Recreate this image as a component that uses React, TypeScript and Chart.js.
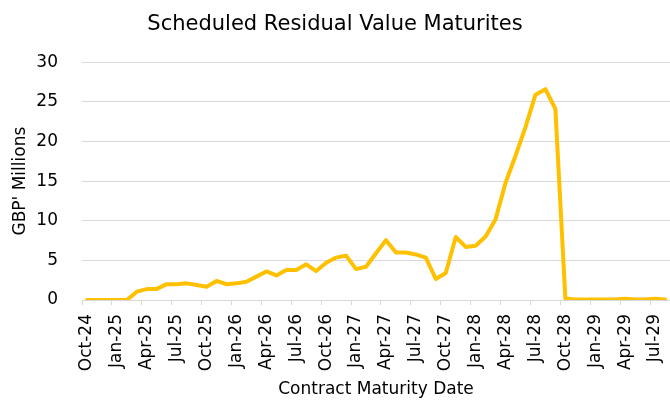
import { useEffect, useRef } from "react";
import { Chart, registerables } from "chart.js";

Chart.register(...registerables);

const months = [
  "Oct-24", "Nov-24", "Dec-24",
  "Jan-25", "Feb-25", "Mar-25", "Apr-25", "May-25", "Jun-25", "Jul-25", "Aug-25", "Sep-25", "Oct-25", "Nov-25", "Dec-25",
  "Jan-26", "Feb-26", "Mar-26", "Apr-26", "May-26", "Jun-26", "Jul-26", "Aug-26", "Sep-26", "Oct-26", "Nov-26", "Dec-26",
  "Jan-27", "Feb-27", "Mar-27", "Apr-27", "May-27", "Jun-27", "Jul-27", "Aug-27", "Sep-27", "Oct-27", "Nov-27", "Dec-27",
  "Jan-28", "Feb-28", "Mar-28", "Apr-28", "May-28", "Jun-28", "Jul-28", "Aug-28", "Sep-28", "Oct-28", "Nov-28", "Dec-28",
  "Jan-29", "Feb-29", "Mar-29", "Apr-29", "May-29", "Jun-29", "Jul-29", "Aug-29",
];

// GBP millions maturing per month
const maturities = [
  0, 0, 0,
  0, 0, 1.05, 1.38, 1.4, 2.0, 2.0, 2.1, 1.9, 1.68, 2.4, 2.0,
  2.1, 2.3, 2.95, 3.6, 3.1, 3.8, 3.8, 4.5, 3.65, 4.7, 5.35, 5.6,
  3.9, 4.2, 5.9, 7.55, 6.0, 6.0, 5.75, 5.35, 2.65, 3.4, 7.95, 6.7,
  6.85, 8.0, 10.2, 14.8, 18.2, 21.8, 25.9, 26.6, 24.1, 0.2, 0.05, 0.05,
  0.05, 0.05, 0.05, 0.15, 0.05, 0.05, 0.15, 0.05,
];

const FONT = "'DejaVu Sans', Verdana, sans-serif";

export default function App() {
  const chartRef = useRef<HTMLCanvasElement>(null);
  const chartInstance = useRef<Chart | null>(null);

  useEffect(() => {
    if (!chartRef.current) return;
    if (chartInstance.current) chartInstance.current.destroy();

    chartInstance.current = new Chart(chartRef.current, {
      type: "line",
      data: {
        labels: months,
        datasets: [
          {
            data: maturities,
            borderColor: "#FFC000",
            borderWidth: 4,
            pointRadius: 0,
            tension: 0,
            borderJoinStyle: "round",
            borderCapStyle: "round",
          },
        ],
      },
      options: {
        animation: false,
        responsive: true,
        maintainAspectRatio: false,
        layout: { padding: 0 },
        plugins: {
          legend: { display: false },
          tooltip: { enabled: false },
          title: {
            display: true,
            text: "Scheduled Residual Value Maturites",
            color: "#000",
            font: { family: FONT, size: 21, weight: "normal" },
            padding: { top: 12, bottom: 25 },
          },
        },
        scales: {
          x: {
            offset: true,
            afterFit: (scale: any) => {
              scale.paddingLeft = 0;
              scale.paddingRight = 0;
              scale.height = 101;
            },
            grid: {
              offset: true,
              drawOnChartArea: false,
              tickLength: 5,
              color: (ctx: any) => (ctx.index % 3 === 0 ? "#d9d9d9" : "rgba(0,0,0,0)"),
            },
            border: { color: "#d9d9d9", width: 1 },
            ticks: {
              autoSkip: false,
              minRotation: 90,
              maxRotation: 90,
              padding: 9,
              color: "#000",
              font: { family: FONT, size: 17 },
              callback: function (this: any, value: any, index: number) {
                return index % 3 === 0 ? this.getLabelForValue(value) : "";
              },
            },
            title: {
              display: true,
              text: "Contract Maturity Date",
              color: "#000",
              font: { family: FONT, size: 17 },
              padding: { top: 0, bottom: 1 },
            },
          },
          y: {
            min: 0,
            max: 30,
            afterFit: (scale: any) => {
              scale.width = 82;
            },
            ticks: {
              stepSize: 5,
              padding: 24,
              color: "#000",
              font: { family: FONT, size: 17 },
            },
            grid: { color: "#d9d9d9", drawTicks: false },
            border: { display: false },
            title: {
              display: true,
              text: "GBP' Millions",
              color: "#000",
              font: { family: FONT, size: 17 },
              padding: { top: 10, bottom: 0 },
            },
          },
        },
      },
    });

    return () => {
      if (chartInstance.current) {
        chartInstance.current.destroy();
        chartInstance.current = null;
      }
    };
  }, []);

  return (
    <div style={{ position: "absolute", left: 0, top: 0, width: 670, height: 401, background: "#fff" }}>
      <canvas ref={chartRef}></canvas>
    </div>
  );
}
